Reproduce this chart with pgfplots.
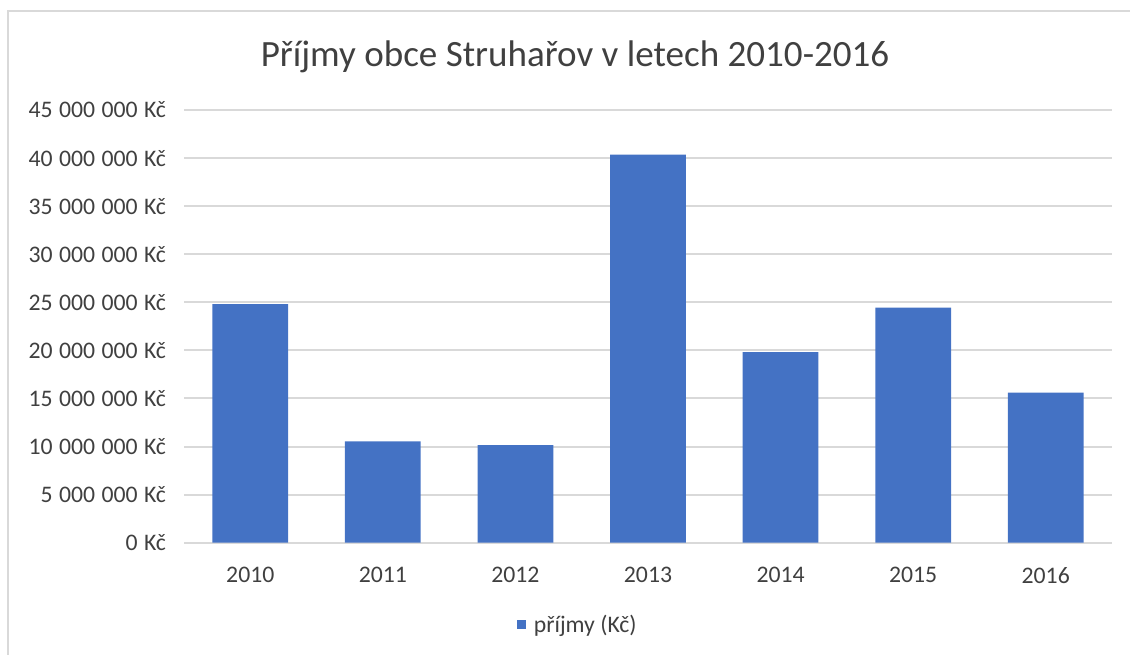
\documentclass[border=0pt]{standalone}
\usepackage{fontspec}
\setmainfont{Carlito}
\usepackage{pgfplots}
\pgfplotsset{compat=1.18}
\definecolor{barblue}{HTML}{4472C4}
\definecolor{gridgray}{HTML}{D9D9D9}
\definecolor{txtgray}{HTML}{404040}
\newcommand{\s}{\hspace{0.27em}}
\begin{document}
\begin{tikzpicture}[x=0.75pt,y=0.75pt]
\path[use as bounding box] (0,0) rectangle (1130,655);
\draw[gridgray,line width=1.2pt] (8,0) -- (8,644) -- (1130,644);
\node[txtgray,font=\fontsize{27.8}{33}\selectfont] at (575,598) {Příjmy obce Struhařov v letech 2010-2016};
\begin{axis}[
  at={(138pt,84.225pt)}, anchor=south west,
  scale only axis,
  width=696pt, height=324.5pt,
  xmin=-0.5, xmax=6.5, ymin=0, ymax=45000000,
  axis x line*=bottom,
  axis y line*=left,
  y axis line style={draw=none},
  x axis line style={gridgray,line width=1.5pt,-},
  xtick=data,
  xticklabels={2010,2011,2012,2013,2014,2015,2016},
  ytick={0,5000000,10000000,15000000,20000000,25000000,30000000,35000000,40000000,45000000},
  yticklabels={0\s Kč,5\s 000\s 000\s Kč,10\s 000\s 000\s Kč,15\s 000\s 000\s Kč,20\s 000\s 000\s Kč,25\s 000\s 000\s Kč,30\s 000\s 000\s Kč,35\s 000\s 000\s Kč,40\s 000\s 000\s Kč,45\s 000\s 000\s Kč},
  ymajorgrids,
  grid style={gridgray,line width=1.5pt},
  major tick length=0pt,
  tick label style={txtgray,font=\fontsize{17.8}{21}\selectfont},
  xticklabel style={yshift=-15pt},
  yticklabel style={xshift=-10pt},
  ytick style={draw=none},
  xtick style={draw=none},
  scaled y ticks=false,
  legend style={at={(0.4246,-0.19)},anchor=center,draw=none,fill=none,
    font=\fontsize{17.8}{21}\selectfont,text=txtgray,
    legend cell align=left},
  legend image code/.code={\fill[barblue] (0,-0.12cm) rectangle (0.25cm,0.13cm);\path (0.38cm,0);},
]
\addplot[ybar,bar width=56.8pt,fill=barblue,draw=none] coordinates {
(0,24820000) (1,10540000) (2,10160000) (3,40350000) (4,19830000) (5,24440000) (6,15600000)
};
\addlegendentry{příjmy (Kč)}
\end{axis}
\end{tikzpicture}
\end{document}
